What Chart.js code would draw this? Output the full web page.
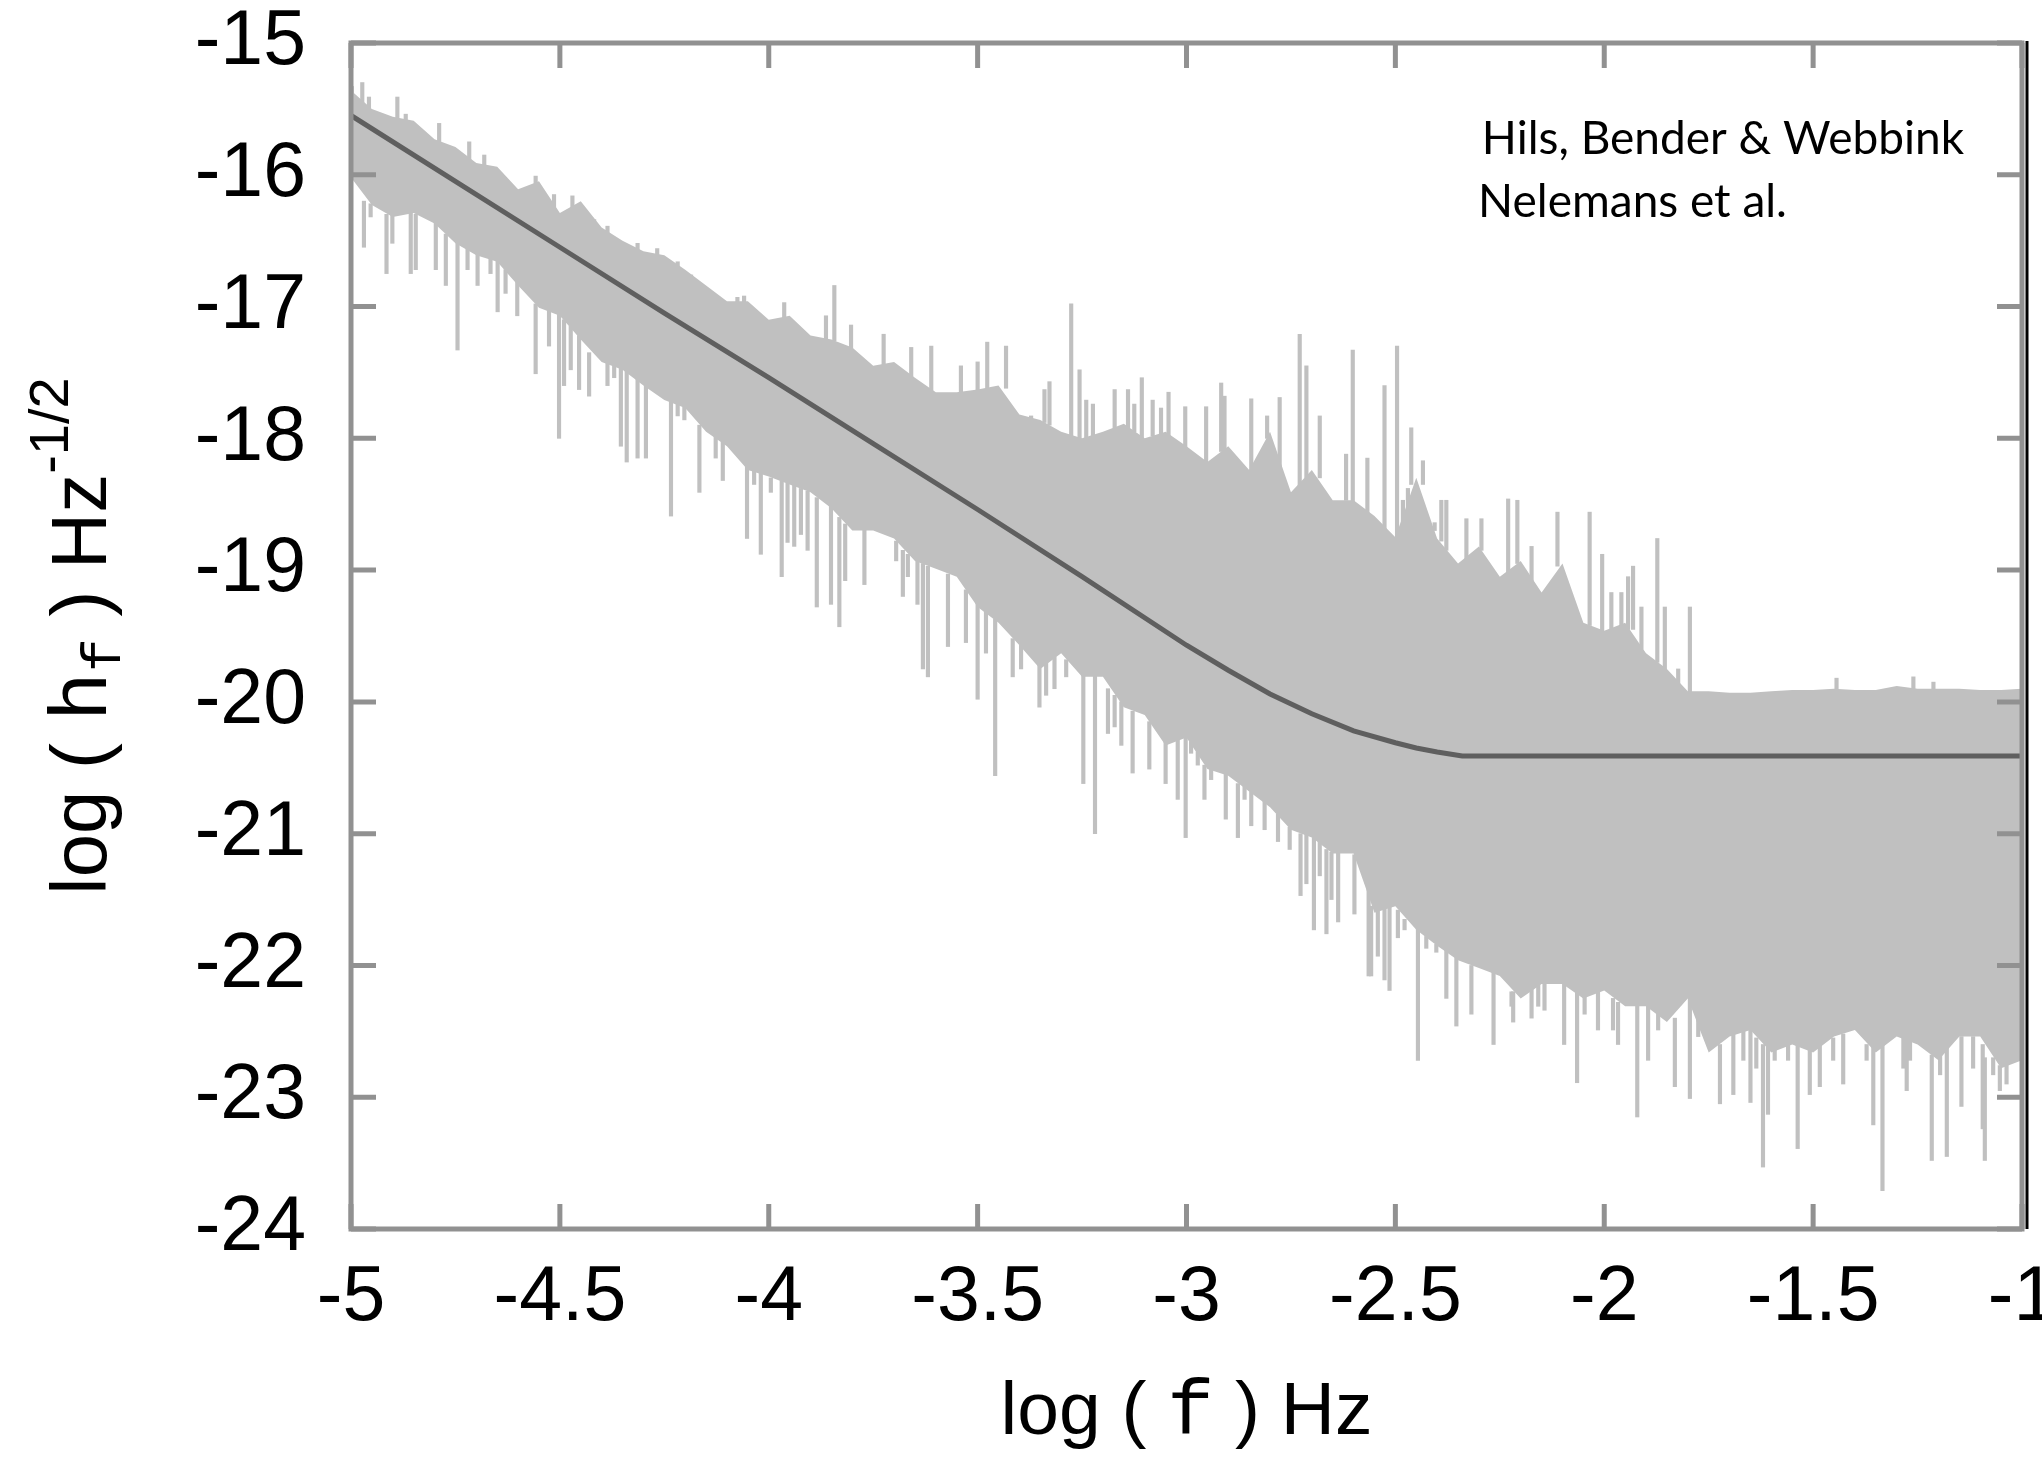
<!DOCTYPE html>
<html>
<head>
<meta charset="utf-8">
<script src="https://cdn.jsdelivr.net/npm/chart.js@4.4.1/dist/chart.umd.min.js"></script>
<style>
  html, body { margin: 0; background: #fff; }
  #wrap { width: 2042px; height: 1459px; }
</style>
</head>
<body>
<div id="wrap"><canvas id="chart" width="2042" height="1459"></canvas></div>
<script>
// log(f) grid used for the noise band edges (step 0.05)
const freqX = [
  -5.00, -4.95, -4.90, -4.85, -4.80, -4.75, -4.70, -4.65, -4.60, -4.55,
  -4.50, -4.45, -4.40, -4.35, -4.30, -4.25, -4.20, -4.15, -4.10, -4.05,
  -4.00, -3.95, -3.90, -3.85, -3.80, -3.75, -3.70, -3.65, -3.60, -3.55,
  -3.50, -3.45, -3.40, -3.35, -3.30, -3.25, -3.20, -3.15, -3.10, -3.05,
  -3.00, -2.95, -2.90, -2.85, -2.80, -2.75, -2.70, -2.65, -2.60, -2.55,
  -2.50, -2.45, -2.40, -2.35, -2.30, -2.25, -2.20, -2.15, -2.10, -2.05,
  -2.00, -1.95, -1.90, -1.85, -1.80, -1.75, -1.70, -1.65, -1.60, -1.55,
  -1.50, -1.45, -1.40, -1.35, -1.30, -1.25, -1.20, -1.15, -1.10, -1.05,
  -1.00
];

// Nelemans et al. noise: top and bottom of the solid grey band
const noiseUpper = [
  -15.36, -15.50, -15.56, -15.59, -15.73, -15.79, -15.91, -15.94, -16.11, -16.05,
  -16.29, -16.20, -16.40, -16.50, -16.58, -16.61, -16.72, -16.84, -16.96, -16.96,
  -17.10, -17.07, -17.22, -17.25, -17.31, -17.45, -17.42, -17.54, -17.65, -17.65,
  -17.63, -17.60, -17.82, -17.86, -17.95, -18.00, -17.95, -17.89, -18.00, -17.95,
  -18.06, -18.18, -18.06, -18.24, -17.95, -18.41, -18.24, -18.47, -18.47, -18.59,
  -18.75, -18.30, -18.76, -18.95, -18.82, -19.05, -18.93, -19.17, -18.95, -19.40,
  -19.46, -19.40, -19.63, -19.75, -19.92, -19.92, -19.93, -19.93, -19.92, -19.91,
  -19.91, -19.90, -19.91, -19.91, -19.88, -19.90, -19.90, -19.90, -19.91, -19.91,
  -19.90
];
const noiseLower = [
  -16.02, -16.23, -16.32, -16.29, -16.37, -16.52, -16.61, -16.66, -16.84, -17.01,
  -17.07, -17.25, -17.42, -17.48, -17.60, -17.71, -17.77, -17.95, -18.06, -18.24,
  -18.29, -18.35, -18.41, -18.53, -18.70, -18.70, -18.76, -18.93, -18.99, -19.05,
  -19.28, -19.40, -19.57, -19.75, -19.63, -19.81, -19.81, -20.04, -20.10, -20.33,
  -20.27, -20.51, -20.56, -20.68, -20.80, -20.97, -21.03, -21.15, -21.15, -21.60,
  -21.55, -21.73, -21.85, -21.96, -22.02, -22.08, -22.25, -22.14, -22.14, -22.25,
  -22.19, -22.31, -22.31, -22.43, -22.25, -22.66, -22.54, -22.49, -22.66, -22.60,
  -22.66, -22.54, -22.49, -22.66, -22.54, -22.60, -22.72, -22.54, -22.54, -22.78,
  -22.72
];

// single bins sticking out of the band: [log f, from, to]
const spikesUp = [
  [-4.998, -15.42, -15.33], [-4.973, -15.52, -15.30], [-4.957, -15.52, -15.41],
  [-4.889, -15.58, -15.41], [-4.869, -15.60, -15.54], [-4.789, -15.76, -15.61],
  [-4.717, -15.92, -15.75], [-4.681, -15.94, -15.85], [-4.558, -16.08, -16.01],
  [-4.514, -16.30, -16.15], [-4.470, -16.25, -16.16], [-4.418, -16.42, -16.34],
  [-4.386, -16.45, -16.39], [-4.314, -16.60, -16.52], [-4.267, -16.62, -16.56],
  [-4.218, -16.72, -16.66], [-4.186, -16.80, -16.76], [-4.158, -16.90, -16.84],
  [-4.122, -17.00, -16.98], [-4.075, -17.00, -16.93], [-4.059, -16.98, -16.92],
  [-3.963, -17.10, -16.97], [-3.863, -17.26, -17.07], [-3.843, -17.26, -16.84],
  [-3.803, -17.33, -17.14], [-3.725, -17.45, -17.21], [-3.659, -17.55, -17.31],
  [-3.611, -17.66, -17.30], [-3.540, -17.66, -17.45], [-3.500, -17.64, -17.42],
  [-3.477, -17.63, -17.27], [-3.432, -17.62, -17.30], [-3.372, -17.85, -17.83],
  [-3.340, -17.88, -17.63], [-3.328, -17.90, -17.57], [-3.276, -18.00, -16.98],
  [-3.256, -18.00, -17.48], [-3.240, -18.00, -17.71], [-3.224, -17.98, -17.74],
  [-3.172, -17.92, -17.63], [-3.140, -17.92, -17.63], [-3.125, -17.95, -17.74],
  [-3.107, -18.00, -17.54], [-3.081, -17.98, -17.71], [-3.061, -17.97, -17.77],
  [-3.043, -17.98, -17.65], [-3.003, -18.08, -17.76], [-2.953, -18.18, -17.76],
  [-2.917, -18.10, -17.58], [-2.909, -18.10, -17.68], [-2.845, -18.25, -17.70],
  [-2.807, -18.00, -17.83], [-2.777, -18.30, -17.69], [-2.729, -18.40, -17.21],
  [-2.713, -18.30, -17.45], [-2.681, -18.30, -17.83], [-2.618, -18.47, -18.12],
  [-2.602, -18.50, -17.33], [-2.567, -18.60, -18.15], [-2.526, -18.70, -17.60],
  [-2.496, -18.75, -17.30], [-2.482, -18.70, -18.47], [-2.470, -18.60, -18.38],
  [-2.462, -18.35, -17.92], [-2.434, -18.35, -18.17], [-2.426, -18.60, -18.64],
  [-2.406, -18.70, -18.64], [-2.390, -18.78, -18.47], [-2.378, -18.85, -18.47],
  [-2.330, -18.96, -18.61], [-2.294, -18.85, -18.61], [-2.230, -19.06, -18.46],
  [-2.208, -18.95, -18.47], [-2.174, -19.10, -18.82], [-2.112, -18.97, -18.56],
  [-2.035, -19.42, -18.56], [-2.005, -19.47, -18.88], [-1.983, -19.45, -19.17],
  [-1.959, -19.42, -19.17], [-1.943, -19.45, -19.05], [-1.931, -19.45, -18.97],
  [-1.911, -19.60, -19.28], [-1.873, -19.70, -18.76], [-1.855, -19.75, -19.28],
  [-1.823, -19.90, -19.75], [-1.795, -19.93, -19.28], [-1.444, -19.93, -19.82],
  [-1.260, -19.92, -19.81], [-1.212, -19.92, -19.85]
];
const spikesDown = [
  [-4.969, -16.55, -16.20], [-4.953, -16.32, -16.22], [-4.915, -16.75, -16.30],
  [-4.901, -16.52, -16.30], [-4.857, -16.75, -16.28], [-4.845, -16.72, -16.30],
  [-4.797, -16.72, -16.35], [-4.773, -16.84, -16.45], [-4.745, -17.33, -16.50],
  [-4.721, -16.72, -16.55], [-4.697, -16.84, -16.58], [-4.666, -16.75, -16.63],
  [-4.649, -17.04, -16.64], [-4.630, -16.90, -16.72], [-4.602, -17.07, -16.80],
  [-4.558, -17.51, -16.98], [-4.526, -17.30, -17.03], [-4.502, -18.00, -17.05],
  [-4.490, -17.60, -17.10], [-4.474, -17.48, -17.15], [-4.454, -17.63, -17.22],
  [-4.430, -17.68, -17.35], [-4.386, -17.60, -17.42], [-4.370, -17.54, -17.45],
  [-4.354, -18.06, -17.46], [-4.340, -18.18, -17.46], [-4.314, -18.15, -17.55],
  [-4.294, -18.15, -17.58], [-4.234, -18.59, -17.70], [-4.218, -17.83, -17.74],
  [-4.202, -17.86, -17.76], [-4.166, -18.41, -17.90], [-4.127, -18.15, -17.98],
  [-4.110, -18.32, -18.03], [-4.052, -18.76, -18.20], [-4.035, -18.35, -18.22],
  [-4.019, -18.88, -18.26], [-3.995, -18.41, -18.30], [-3.969, -19.05, -18.32],
  [-3.955, -18.79, -18.34], [-3.939, -18.82, -18.35], [-3.923, -18.73, -18.38],
  [-3.907, -18.85, -18.40], [-3.885, -19.28, -18.45], [-3.851, -19.26, -18.50],
  [-3.831, -19.43, -18.60], [-3.817, -19.08, -18.65], [-3.771, -19.11, -18.68],
  [-3.695, -18.93, -18.78], [-3.679, -19.20, -18.85], [-3.667, -19.05, -18.88],
  [-3.644, -19.26, -18.93], [-3.631, -19.75, -18.95], [-3.619, -19.81, -18.97],
  [-3.571, -19.58, -19.03], [-3.528, -19.55, -19.15], [-3.500, -19.98, -19.25],
  [-3.480, -19.63, -19.30], [-3.458, -20.56, -19.37], [-3.416, -19.81, -19.52],
  [-3.396, -19.75, -19.55], [-3.352, -20.04, -19.72], [-3.336, -19.95, -19.68],
  [-3.316, -19.90, -19.66], [-3.288, -19.81, -19.68], [-3.247, -20.62, -19.78],
  [-3.219, -21.00, -19.80], [-3.188, -20.24, -19.90], [-3.172, -20.19, -19.95],
  [-3.156, -20.33, -20.00], [-3.129, -20.54, -20.07], [-3.089, -20.51, -20.15],
  [-3.050, -20.62, -20.30], [-3.021, -20.74, -20.28], [-3.002, -21.03, -20.25],
  [-2.989, -20.39, -20.30], [-2.973, -20.48, -20.38], [-2.957, -20.74, -20.48],
  [-2.941, -20.59, -20.50], [-2.906, -20.89, -20.54], [-2.877, -21.03, -20.62],
  [-2.861, -20.74, -20.64], [-2.845, -20.94, -20.68], [-2.813, -20.97, -20.75],
  [-2.781, -21.06, -20.85], [-2.753, -21.12, -20.95], [-2.727, -21.47, -21.00],
  [-2.713, -21.38, -21.00], [-2.695, -21.73, -21.03], [-2.681, -21.32, -21.06],
  [-2.665, -21.76, -21.12], [-2.653, -21.50, -21.14], [-2.637, -21.67, -21.14],
  [-2.598, -21.61, -21.16], [-2.564, -22.08, -21.40], [-2.558, -22.08, -21.55],
  [-2.542, -21.93, -21.58], [-2.526, -22.11, -21.56], [-2.514, -22.19, -21.55],
  [-2.494, -21.79, -21.58], [-2.478, -21.73, -21.65], [-2.446, -22.72, -21.70],
  [-2.426, -21.87, -21.78], [-2.402, -21.90, -21.84], [-2.378, -22.25, -21.85],
  [-2.354, -22.46, -21.94], [-2.318, -22.37, -22.00], [-2.265, -22.60, -22.05],
  [-2.222, -22.31, -22.20], [-2.218, -22.43, -22.20], [-2.174, -22.40, -22.18],
  [-2.158, -22.31, -22.15], [-2.143, -22.34, -22.12], [-2.096, -22.60, -22.12],
  [-2.065, -22.89, -22.20], [-2.047, -22.37, -22.22], [-2.015, -22.49, -22.18],
  [-1.979, -22.49, -22.25], [-1.967, -22.60, -22.28], [-1.921, -23.15, -22.30],
  [-1.895, -22.72, -22.30], [-1.871, -22.49, -22.35], [-1.831, -22.92, -22.40],
  [-1.795, -23.01, -22.25], [-1.775, -22.54, -22.40], [-1.751, -22.60, -22.55],
  [-1.723, -23.05, -22.60], [-1.691, -22.98, -22.52], [-1.667, -22.72, -22.50],
  [-1.650, -23.04, -22.48], [-1.636, -22.78, -22.55], [-1.620, -23.53, -22.60],
  [-1.608, -23.13, -22.62], [-1.592, -22.72, -22.62], [-1.560, -22.72, -22.60],
  [-1.537, -23.39, -22.60], [-1.508, -22.98, -22.64], [-1.484, -22.92, -22.60],
  [-1.452, -22.72, -22.55], [-1.428, -22.90, -22.52], [-1.372, -22.72, -22.60],
  [-1.356, -23.21, -22.62], [-1.334, -23.71, -22.60], [-1.284, -22.78, -22.55],
  [-1.276, -22.95, -22.56], [-1.268, -22.72, -22.56], [-1.216, -23.48, -22.68],
  [-1.196, -22.83, -22.65], [-1.180, -23.45, -22.62], [-1.145, -23.07, -22.54],
  [-1.117, -22.78, -22.54], [-1.094, -23.24, -22.60], [-1.089, -23.48, -22.70],
  [-1.069, -22.83, -22.70], [-1.053, -22.95, -22.76], [-1.037, -22.90, -22.74],
  [-1.021, -22.72, -22.70]
];

// Hils, Bender & Webbink curve
const modelX = [-5, -4.75, -4.5, -4.25, -4, -3.75, -3.5, -3.25, -3, -2.9, -2.8, -2.7, -2.6, -2.5, -2.45, -2.4, -2.34, -2, -1.5, -1];
const modelY = [-15.55, -16.05, -16.55, -17.05, -17.54, -18.04, -18.54, -19.05, -19.57, -19.76, -19.94, -20.09, -20.22, -20.31, -20.35, -20.38, -20.41, -20.41, -20.41, -20.41];

const xTickValues = [-5, -4.5, -4, -3.5, -3, -2.5, -2, -1.5, -1];
const yTickValues = [-15, -16, -17, -18, -19, -20, -21, -22, -23, -24];
const xTickLabels = ["-5", "-4.5", "-4", "-3.5", "-3", "-2.5", "-2", "-1.5", "-1"];
const yTickLabels = ["-15", "-16", "-17", "-18", "-19", "-20", "-21", "-22", "-23", "-24"];

const notes = [
  { text: "Hils, Bender & Webbink", x: -2.293, y: -15.842 },
  { text: "Nelemans et al.", x: -2.302, y: -16.32 }
];

const GREY = "#c0c0c0";
const AXIS = "#919191";

function drawParts(ctx, parts, cx, baseY) {
    let total = 0;
    parts.forEach(p => {
        ctx.font = p.font;
        p.w = ctx.measureText(p.text).width;
        total += p.w;
    });
    let px = cx - total / 2;
    parts.forEach(p => {
        ctx.font = p.font;
        ctx.fillText(p.text, px, baseY + (p.dy || 0));
        px += p.w;
    });
}

const framePlugin = {
    id: "frame",
    afterDatasetsDraw(chart) {
        const { ctx, chartArea: a, scales: { x, y } } = chart;
        const tick = 25;
        ctx.save();
        ctx.strokeStyle = AXIS;
        ctx.lineWidth = 5;
        ctx.strokeRect(a.left, a.top, a.right - a.left, a.bottom - a.top);
        ctx.beginPath();
        xTickValues.forEach(v => {
            const px = x.getPixelForValue(v);
            ctx.moveTo(px, a.bottom); ctx.lineTo(px, a.bottom - tick);
            ctx.moveTo(px, a.top); ctx.lineTo(px, a.top + tick);
        });
        yTickValues.forEach(v => {
            const py = y.getPixelForValue(v);
            ctx.moveTo(a.left, py); ctx.lineTo(a.left + tick, py);
            ctx.moveTo(a.right, py); ctx.lineTo(a.right - tick, py);
        });
        ctx.stroke();
        // thin black edge to the right of the frame
        ctx.strokeStyle = "#000";
        ctx.lineWidth = 3;
        ctx.beginPath();
        ctx.moveTo(a.right + 5, a.top - 2);
        ctx.lineTo(a.right + 5, a.bottom);
        ctx.stroke();
        ctx.restore();
    },
    afterDraw(chart) {
        const { ctx, chartArea: a, scales: { x, y } } = chart;
        ctx.save();
        ctx.fillStyle = "#000";
        ctx.textBaseline = "alphabetic";
        ctx.textAlign = "left";

        drawParts(ctx, [
            { text: "log ( ", font: "75px 'Liberation Sans'" },
            { text: "f", font: "78px 'Liberation Mono'" },
            { text: " ) Hz", font: "75px 'Liberation Sans'" }
        ], (a.left + a.right) / 2, a.bottom + 205);

        ctx.save();
        ctx.translate(106, (a.top + a.bottom) / 2);
        ctx.rotate(-Math.PI / 2);
        drawParts(ctx, [
            { text: "log ( ", font: "78px 'Liberation Sans'" },
            { text: "h", font: "82px 'Liberation Mono'" },
            { text: "f", font: "56px 'Liberation Mono'", dy: 14 },
            { text: " ) Hz", font: "78px 'Liberation Sans'" },
            { text: "-1/2", font: "56px 'Liberation Sans'", dy: -38 }
        ], 0, 0);
        ctx.restore();

        ctx.font = "46px Lato";
        notes.forEach(n => {
            ctx.fillText(n.text, x.getPixelForValue(n.x), y.getPixelForValue(n.y));
        });
        ctx.restore();
    }
};

const ctx = document.getElementById("chart").getContext("2d");

new Chart(ctx, {
    type: "line",
    data: {
        datasets: [
            {
                label: "noise top",
                data: freqX.map((f, i) => ({ x: f, y: noiseUpper[i] })),
                borderWidth: 0,
                pointRadius: 0,
                tension: 0,
                backgroundColor: GREY,
                fill: 1,
                order: 3
            },
            {
                label: "noise bottom",
                data: freqX.map((f, i) => ({ x: f, y: noiseLower[i] })),
                borderWidth: 0,
                pointRadius: 0,
                tension: 0,
                fill: false,
                order: 3
            },
            {
                type: "bar",
                label: "spikes up",
                data: spikesUp.map(s => ({ x: s[0], y: [s[1], s[2]] })),
                backgroundColor: GREY,
                barThickness: 3.5,
                grouped: false,
                order: 2
            },
            {
                type: "bar",
                label: "spikes down",
                data: spikesDown.map(s => ({ x: s[0], y: [s[1], s[2]] })),
                backgroundColor: GREY,
                barThickness: 3.5,
                grouped: false,
                order: 2
            },
            {
                label: "Hils, Bender & Webbink",
                data: modelX.map((f, i) => ({ x: f, y: modelY[i] })),
                borderColor: "#5f5f5f",
                borderWidth: 5,
                pointRadius: 0,
                tension: 0,
                fill: false,
                order: 0
            }
        ]
    },
    options: {
        responsive: false,
        animation: false,
        devicePixelRatio: 1,
        events: [],
        layout: { padding: { left: 0, top: 43, right: 20, bottom: 0 } },
        plugins: {
            legend: { display: false },
            tooltip: { enabled: false }
        },
        scales: {
            x: {
                type: "linear",
                min: -5,
                max: -1,
                offset: false,
                afterBuildTicks: s => { s.ticks = xTickValues.map(v => ({ value: v })); },
                afterFit: s => { s.height = 230; s.paddingLeft = 0; s.paddingRight = 0; },
                grid: { display: false, drawTicks: false },
                border: { display: false },
                ticks: {
                    autoSkip: false,
                    maxRotation: 0,
                    padding: 24,
                    color: "#000",
                    font: { family: "'Liberation Sans'", size: 77 },
                    callback: v => xTickLabels[xTickValues.indexOf(v)]
                }
            },
            y: {
                type: "linear",
                min: -24,
                max: -15,
                afterBuildTicks: s => { s.ticks = yTickValues.map(v => ({ value: v })); },
                afterFit: s => { s.width = 351; s.paddingTop = 0; s.paddingBottom = 0; },
                grid: { display: false, drawTicks: false },
                border: { display: false },
                ticks: {
                    autoSkip: false,
                    padding: 45,
                    color: "#000",
                    font: { family: "'Liberation Sans'", size: 77 },
                    callback: v => yTickLabels[yTickValues.indexOf(v)]
                }
            }
        }
    },
    plugins: [framePlugin]
});
</script>
</body>
</html>
